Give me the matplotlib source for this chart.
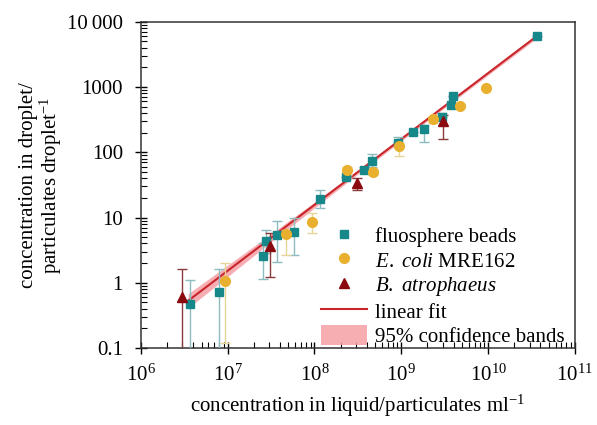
import matplotlib
matplotlib.use('Agg')
import numpy as np
import matplotlib.pyplot as plt
from matplotlib.ticker import LogLocator, FixedLocator, FixedFormatter, NullFormatter

# fluosphere beads
bead_x = [3.67e6, 8.0e6, 2.52e7, 2.75e7, 3.66e7, 5.8e7, 1.15e8, 2.28e8, 3.7e8,
          4.6e8, 9.06e8, 1.37e9, 1.84e9, 2.91e9, 3.7e9, 3.96e9, 3.62e10]
bead_y = [0.48, 0.73, 2.6, 4.3, 5.4, 6.1, 19.4, 41.7, 52.9,
          73.5, 139, 205, 223, 342, 535, 728, 5940]
bead_lo = [0.01, 0.01, 1.16, 2.9, 2.1, 2.7, 13.9, 41.7, 52.9,
           60, 139, 205, 141, 342, 535, 728, 5940]
bead_hi = [1.11, 1.63, 4.0, 6.5, 8.8, 10.0, 26, 41.7, 60,
           95, 170, 205, 260, 400, 535, 728, 5940]

# E. coli MRE162
ecoli_x = [9.4e6, 4.7e7, 9.4e7, 2.38e8, 4.74e8, 9.3e8, 2.33e9, 4.73e9, 9.44e9]
ecoli_y = [1.07, 5.5, 8.5, 53, 49.8, 124, 325, 510, 966]
ecoli_lo = [0.118, 2.7, 5.75, 45, 45, 89, 280, 510, 966]
ecoli_hi = [2.0, 6.5, 11.6, 60, 55, 140, 340, 510, 966]

# B. atrophaeus
bat_x = [3.0e6, 3.06e7, 3.07e8, 3.04e9]
bat_y = [0.6, 3.6, 34, 300]
bat_lo = [0.01, 1.24, 26.8, 158]
bat_hi = [1.63, 5.8, 39.6, 370]

# linear fit and 95% confidence band
fit_x = [3.5e6, 3.6e10]
fit_y = [0.53, 5940]
band_x = [3.5e6, 3e7, 3e8, 3e9, 3.6e10]
band_lo = [0.41, 4.0, 43.9, 454, 5510]
band_hi = [0.68, 5.35, 50.5, 509, 6320]

y_ticks = [0.1, 1, 10, 100, 1000, 10000]
y_labels = ['0.1', '1', '10', '100', '1000', '10\u2009000']

plt.rcParams['font.family'] = ['Liberation Serif', 'DejaVu Serif']
plt.rcParams['mathtext.fontset'] = 'custom'
plt.rcParams['mathtext.rm'] = 'Liberation Serif'
plt.rcParams['mathtext.it'] = 'Liberation Serif:italic'
plt.rcParams['mathtext.bf'] = 'Liberation Serif:bold'
plt.rcParams['font.size'] = 15


def yerr(y, lo, hi):
    y = np.array(y)
    return [y - np.array(lo), np.array(hi) - y]


fig = plt.figure(figsize=(5.97, 4.25), dpi=100)
ax = fig.add_axes([0.236, 0.181, 0.727, 0.768])
ax.set_xscale('log')
ax.set_yscale('log')

# confidence band and fit line
ax.fill_between(band_x, band_lo, band_hi, color='#f5a0a6', alpha=0.85,
                linewidth=0, label='95% confidence bands', zorder=1)
ax.plot(fit_x, fit_y, color='#c8262b', linewidth=1.5, label='linear fit', zorder=2)

# data with error bars
ax.errorbar(bead_x, bead_y, yerr=yerr(bead_y, bead_lo, bead_hi), fmt='none',
            ecolor='#8dbcc0', elinewidth=1, capsize=3.5, zorder=3)
ax.errorbar(ecoli_x, ecoli_y, yerr=yerr(ecoli_y, ecoli_lo, ecoli_hi), fmt='none',
            ecolor='#e6d598', elinewidth=1, capsize=3.5, zorder=3)
ax.errorbar(bat_x, bat_y, yerr=yerr(bat_y, bat_lo, bat_hi), fmt='none',
            ecolor='#8a3a3a', elinewidth=1, capsize=3.5, zorder=3)

ax.plot(bead_x, bead_y, 's', color='#17888a', markersize=6, linestyle='none',
        label='fluosphere beads', zorder=4)
ax.plot(ecoli_x, ecoli_y, 'o', color='#e8b02e', markersize=7, linestyle='none',
        label=r'$\mathit{E.}$ $\mathit{coli}$ MRE162', zorder=4)
ax.plot(bat_x, bat_y, '^', color='#8b0a0f', markersize=7.5, linestyle='none',
        label=r'$\mathit{B.}$ $\mathit{atrophaeus}$', zorder=5)

ax.set_xlim(1e6, 1e11)
ax.set_ylim(0.1, 10000)

ax.yaxis.set_major_locator(FixedLocator(y_ticks))
ax.yaxis.set_major_formatter(FixedFormatter(y_labels))
ax.yaxis.set_minor_locator(LogLocator(base=10, subs=np.arange(2, 10), numticks=20))
ax.yaxis.set_minor_formatter(NullFormatter())
ax.xaxis.set_major_locator(LogLocator(base=10, numticks=10))
ax.xaxis.set_minor_locator(LogLocator(base=10, subs=np.arange(2, 10), numticks=20))
ax.xaxis.set_minor_formatter(NullFormatter())

ax.tick_params(which='major', direction='inout', length=8, width=1, labelsize=15)
ax.tick_params(axis='y', which='major', pad=9)
ax.tick_params(axis='x', which='major', pad=8)
ax.tick_params(which='minor', direction='in', length=4, width=0.8)
for s in ax.spines.values():
    s.set_linewidth(1.1)
    s.set_color('#333333')

ax.set_xlabel('concentration in liquid/particulates ml$^{-1}$', fontsize=15, labelpad=5)
ax.set_ylabel('concentration in droplet/\nparticulates droplet$^{-1}$', fontsize=15,
              labelpad=2, linespacing=1.0)

handles, labels = ax.get_legend_handles_labels()
order = [2, 3, 4, 1, 0]
ax.legend([handles[i] for i in order], [labels[i] for i in order],
          loc='lower right', bbox_to_anchor=(1.0, -0.03), frameon=False,
          fontsize=15, handlelength=2.2, handleheight=1.1, handletextpad=0.4,
          labelspacing=0.12, borderaxespad=0.1)

fig.savefig('out.png', dpi=100)
